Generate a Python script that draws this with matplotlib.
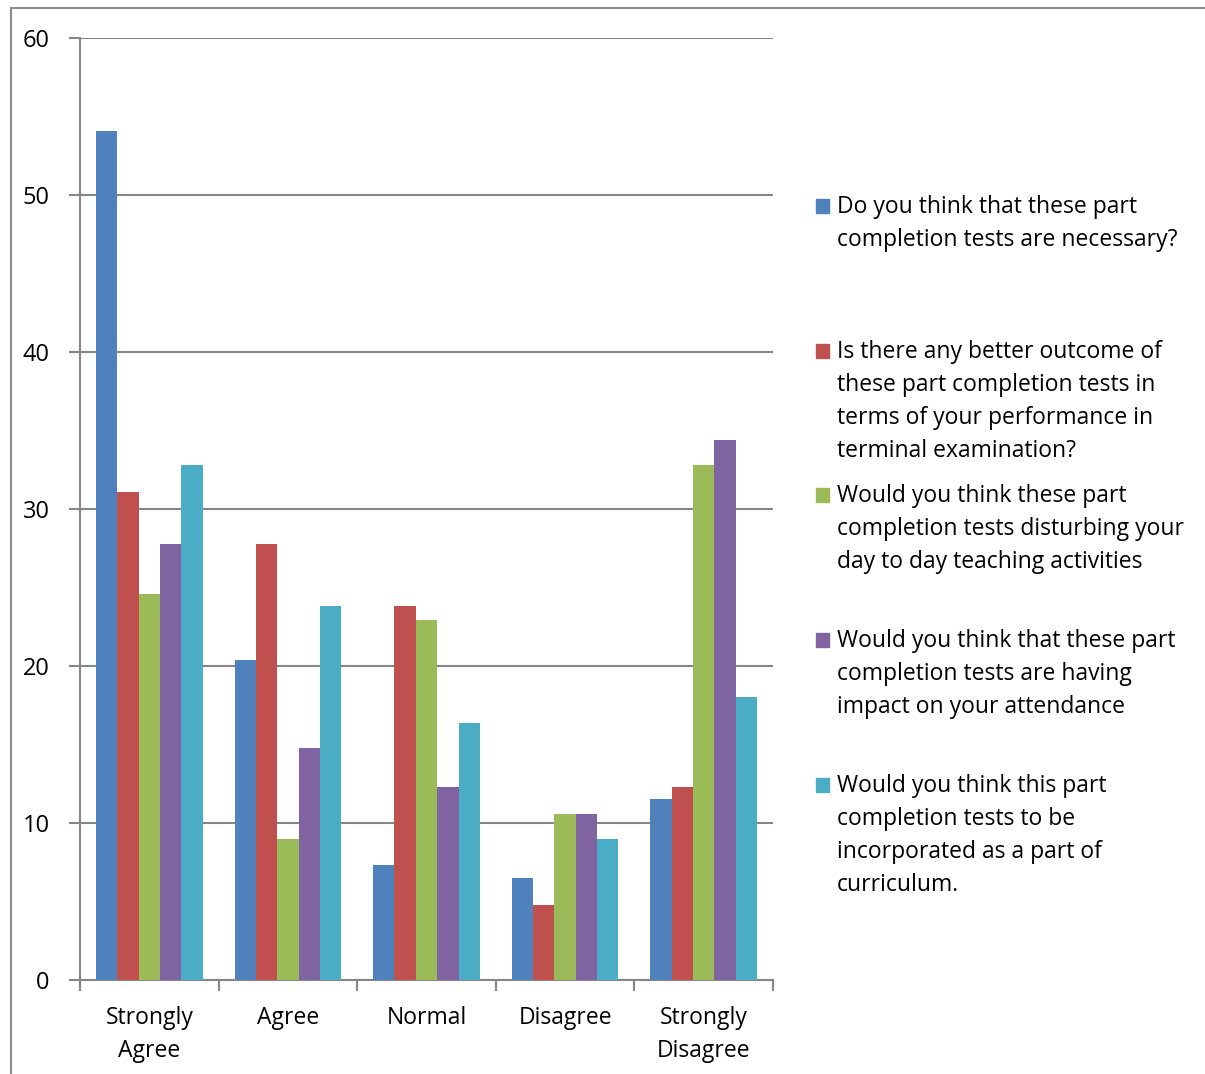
import matplotlib
matplotlib.use("Agg")
import matplotlib.pyplot as plt
import numpy as np
from matplotlib.patches import Rectangle

categories = ["Strongly\nAgree", "Agree", "Normal", "Disagree", "Strongly\nDisagree"]
series_labels = [
    "Do you think that these part\ncompletion tests are necessary?",
    "Is there any better outcome of\nthese part completion tests in\nterms of your performance in\nterminal examination?",
    "Would you think these part\ncompletion tests disturbing your\nday to day teaching activities",
    "Would you think that these part\ncompletion tests are having\nimpact on your attendance",
    "Would you think this part\ncompletion tests to be\nincorporated as a part of\ncurriculum.",
]
necessary = [54.1, 20.4, 7.3, 6.5, 11.5]
better_outcome = [31.1, 27.8, 23.8, 4.8, 12.3]
disturbing = [24.6, 9.0, 22.9, 10.6, 32.8]
attendance = [27.8, 14.8, 12.3, 10.6, 34.4]
curriculum = [32.8, 23.8, 16.4, 9.0, 18.0]
series = [necessary, better_outcome, disturbing, attendance, curriculum]
colors = ["#4F81BD", "#C0504D", "#9BBB59", "#8064A2", "#4BACC6"]
yticks = [0, 10, 20, 30, 40, 50, 60]

plt.rcParams['font.family'] = ['Open Sans', 'DejaVu Sans']
W, H = 1205, 1074
fig = plt.figure(figsize=(W / 100, H / 100), dpi=100)
ax = fig.add_axes([80 / W, 1 - 980 / H, (773 - 80) / W, (980 - 38) / H])

n = len(series)
x = np.arange(len(categories))
group_w = 0.77
bw = group_w / n
for i, (vals, c) in enumerate(zip(series, colors)):
    ax.bar(x - group_w / 2 + bw * (i + 0.5), vals, width=bw, color=c,
           edgecolor='none', zorder=3)

ax.set_xlim(-0.5, len(categories) - 0.5)
ax.set_ylim(0, 60)
ax.set_yticks(yticks)
ax.set_yticklabels([str(t) for t in yticks], fontsize=17)
ax.yaxis.grid(True, color='#868686', linewidth=1.5, zorder=0)
ax.set_axisbelow(True)
ax.set_xticks(np.arange(-0.5, len(categories), 1.0))
ax.set_xticklabels([])
ax.set_xticks(x, minor=True)
ax.set_xticklabels(categories, minor=True, fontsize=16.5, linespacing=1.5)
ax.tick_params(axis='x', which='minor', length=0, pad=19)
ax.tick_params(axis='x', which='major', length=8, width=1.5, color='#868686')
ax.tick_params(axis='y', length=8, width=1.5, color='#868686', pad=14)
for s in ['top', 'right']:
    ax.spines[s].set_visible(False)
for s in ['left', 'bottom']:
    ax.spines[s].set_color('#868686')
    ax.spines[s].set_linewidth(1.5)

# legend drawn manually
legend_y = [206, 351, 495, 640, 785]
for lab, c, yy in zip(series_labels, colors, legend_y):
    fig.patches.append(Rectangle((816 / W, 1 - (yy + 7) / H), 13 / W, 14 / H,
                                 transform=fig.transFigure, color=c, figure=fig))
    fig.text(837 / W, 1 - (yy - 11) / H, lab, fontsize=16.5, va='top', ha='left',
             linespacing=1.5)

# outer frame
fig.patches.append(Rectangle((11 / W, -0.1), 1.2, 1 - 8 / H + 0.1,
                             transform=fig.transFigure, fill=False,
                             edgecolor='#8c8c8c', linewidth=1.5, figure=fig))

fig.savefig("out.png", dpi=100)
